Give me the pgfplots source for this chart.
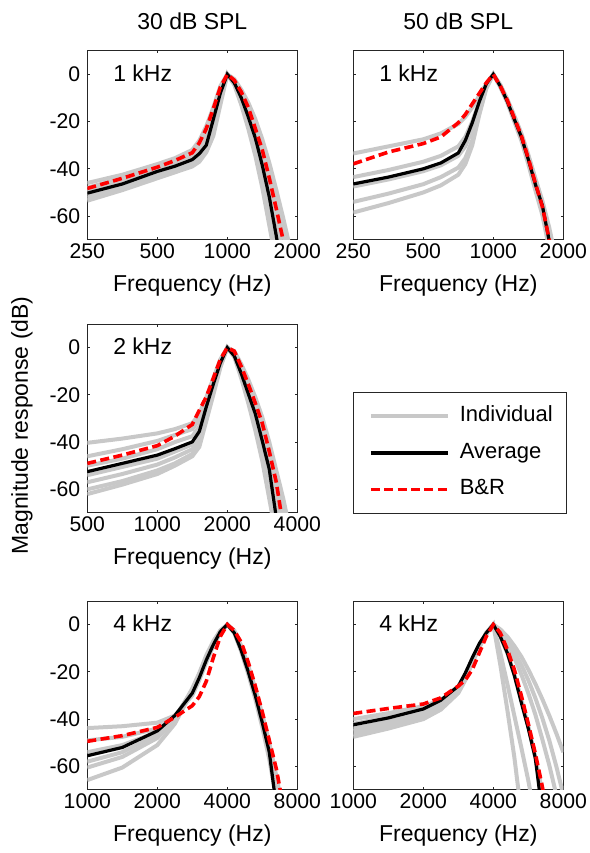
\documentclass[border=0pt]{standalone}
\usepackage{pgfplots}
\pgfplotsset{compat=1.18}
\usepackage{pgfplotstable}
\usepackage{fontspec}
\setmainfont{Liberation Sans}
\newcommand\labsize{\fontsize{11.5}{13.8}\selectfont}
\newcommand\ticksize{\fontsize{10.6}{12.7}\selectfont}
\newcommand\legsize{\fontsize{11}{13.2}\selectfont}
\definecolor{indivgray}{RGB}{200,200,200}

\pgfplotstableread{
f g1 g2 g3 g4 g5 g6 g7 avg br
250 -46 -48 -49.5 -51 -52.5 -53.5 -50 -50.3 -48.3
354 -42.5 -44 -45.5 -47 -48 -49 -46 -46.4 -44
500 -38 -39.5 -40.5 -42 -43 -44 -41 -41.1 -39.3
595 -35.5 -37 -38 -39.5 -40.5 -41.5 -38.5 -38.9 -36.5
707 -32 -34 -35.5 -37 -38 -39 -36 -36.1 -33.2
758 -28 -30.5 -32.5 -34.5 -36 -37 -33 -33.6 -29
812 -22 -25 -27.5 -30.5 -32 -33 -29 -30 -23
871 -14 -16 -18.5 -21 -24 -26 -20 -19 -14.5
933 -5 -6 -7.5 -9 -11 -13 -8.5 -8 -5.5
1000 0 0 0 0 0 0 0 0 0
1072 -2 -2.5 -3 -3.5 -4 -4.5 -3 -3.6 -2.5
1149 -6.5 -8 -9 -10.5 -12 -13 -9.5 -10 -7.5
1231 -12 -14.5 -16.5 -19 -21 -23 -17.5 -18 -14
1320 -19 -22.5 -25.5 -29 -32 -34.5 -27 -27 -23
1414 -27.5 -32 -35.5 -40 -44 -48 -38 -38.5 -32
1516 -37.5 -43 -48 -54 -59 -64 -51 -52 -44
1625 -49 -55 -62 -69 -75 -80 -66 -68.5 -57
1741 -61 -68 -76 -84 nan nan -81 -86 -70.5
1866 -74 -82 nan nan nan nan nan nan -85
2000 nan nan nan nan nan nan nan nan nan
}\tTL

\pgfplotstableread{
f g1 g2 g3 g4 g5 avg br
250 -33.5 -43.5 -47.5 -54 -58.5 -46.4 -37.9
354 -30.5 -40.5 -44.5 -50.5 -54.5 -43.5 -32.9
500 -27.5 -37 -41 -46.5 -50 -40 -29.3
595 -25 -34.5 -38.5 -43.5 -47 -37.5 -26.5
707 -21 -30.5 -34.5 -39.5 -42.5 -33.3 -20.5
758 -18 -26.5 -30.5 -35.5 -38 -28 -17
812 -14 -20 -23.5 -28 -30 -20.5 -12.5
871 -9 -11.5 -13 -16 -17 -11.5 -8
933 -4 -4 -4.5 -5.5 -6 -4 -3.6
1000 0 0 0 0 0 0 0
1072 -4.5 -5 -4.5 -5.5 -4.8 -5 -5
1149 -10.5 -11.5 -11 -12 -11 -11.5 -11
1231 -17.5 -19 -18 -20 -18.5 -19 -18.5
1320 -25 -27 -25.5 -28 -26.5 -26.5 -26
1414 -34 -36.5 -34.5 -38 -35.5 -36 -35.5
1516 -44 -47 -44.5 -49 -45.5 -46.5 -46
1625 -53.5 -57 -54 -59.5 -55 -55.5 -56
1741 -65 -71 -67 -74 -67.5 -70.7 -70
1866 -79 -86 -82 nan -82 -86 -85
2000 nan nan nan nan nan nan nan
}\tTR

\pgfplotstableread{
f g1 g2 g3 g4 g5 g6 g7 avg br
500 -40.3 -46 -50 -54 -57 -60 -62 -52.5 -49
707 -38.5 -43 -47 -50.5 -53.5 -56.5 -58 -49 -45.5
1000 -36.3 -39.5 -43 -47 -49.5 -52 -53.5 -45.5 -41.5
1189 -34.5 -37 -40 -44 -46.5 -49 -50 -42.8 -37.5
1414 -32 -34.5 -37.5 -41 -43 -45 -46 -39.9 -32.5
1516 -28 -30.5 -33.5 -37 -39 -40.5 -42 -35.5 -26.5
1625 -21 -22.5 -24 -27 -28.5 -30 -31 -25 -20.8
1741 -13 -14 -15 -17 -18 -19 -20 -15.5 -13
1866 -5 -5.5 -6 -7 -7.5 -8 -8.5 -6.5 -5
2000 0 0 0 0 0 0 0 0 0
2144 -1.5 -2 -2.5 -3.5 -4 -3 -2.5 -3.5 -1.5
2297 -7 -8 -9.5 -11.5 -13 -10.5 -9 -11 -8
2462 -13.5 -15 -17.5 -21 -23.5 -19.5 -16.5 -19.5 -15.5
2639 -21 -23 -26.5 -31 -35 -29 -25 -28 -23.5
2828 -29.5 -32 -36.5 -42 -48 -39.5 -34.5 -39.5 -32
3031 -40 -43 -48.5 -55 -64 -51.5 -46 -51.5 -44
3249 -52 -55.5 -62 -71 -80 -66 -59 -72 -57
3482 -64 -69 -77 nan nan -81 -73 nan -76
3732 -78 -84 nan nan nan nan nan nan nan
4000 nan nan nan nan nan nan nan nan nan
}\tML

\pgfplotstableread{
f g1 g2 g3 g4 g5 g6 avg br
1000 -43.8 -49 -58 -60.5 -65.8 -54 -55.5 -49.4
1414 -43 -47.5 -54 -56 -60.5 -51 -52 -47
2000 -41.5 -44 -46.5 -48 -51 -45.5 -45 -43.5
2378 -38.5 -39 -40 -40.5 -42 -39.5 -38.5 -39.2
2828 -30 -28.5 -27.5 -27 -28 -27.5 -29 -34.3
3031 -23.5 -22 -21 -20.5 -21.5 -21 -22.5 -30.5
3249 -16 -14.5 -13.5 -13 -14 -14 -15 -24
3482 -9 -8 -7.5 -7 -7.5 -7.5 -8.5 -14
3732 -3.5 -3 -2.5 -2.5 -2.8 -3 -3 -5
4000 0 0 0 0 0 0 0 0
4287 -3 -3.5 -3 -2.5 -3.5 -3 -3.5 -2.5
4595 -10 -11 -10 -9 -11.5 -10.5 -11 -7.5
4925 -18.5 -20 -19 -17.5 -21 -19.5 -20 -16
5278 -28 -30 -29 -27 -31.5 -29.5 -30 -26
5657 -39.5 -41.5 -40.5 -38 -43.5 -41 -41.5 -37
6063 -52 -54.5 -53 -50 -57 -53.5 -54 -49
6498 -66 -70 -68 -64 -74 -68 -77 -61
6964 -80 -85 -83 -79 nan -83 nan -77
7464 nan nan nan nan nan nan nan nan
8000 nan nan nan nan nan nan nan nan
}\tBL

\pgfplotstableread{
f g1 g2 g3 g4 g5 g6 avg br
1000 -40 -42 -44 -46.5 -47.5 -45 -42.4 -37.6
1414 -37.5 -39 -41 -43.5 -44 -42 -39.5 -35.5
2000 -34.5 -36 -37.5 -39.5 -40 -38.5 -35.7 -33.6
2378 -32 -33 -34 -35.5 -36 -35 -32 -31
2828 -27 -27.5 -28 -28.5 -29 -28 -26 -26
3031 -22 -22 -22.5 -23 -23.5 -22.5 -20.5 -23.5
3249 -16 -15 -15.5 -16 -16 -15.5 -14 -19
3482 -9.5 -9 -9 -9.5 -9.5 -9 -8 -12
3732 -4 -3.5 -3.5 -3.5 -4 -3.5 -3.5 -5
4000 0 0 0 0 0 0 0 0
4287 -2 -2.5 -3 -5 -17 -12 -5 -3.5
4595 -5 -6.5 -8 -12 -36 -25 -12 -10.5
4925 -9 -11.5 -14 -21 -56 -38.5 -21.5 -19
5278 -13.5 -17 -21 -31.5 -80 -52 -33 -30
5657 -19 -23.5 -29 -43 nan -66 -44 -42
6063 -25 -31 -38 -56 nan -82 -56.5 -54.5
6498 -31.5 -39.5 -48.5 -71 nan nan -80 -68.5
6964 -38.5 -49 -59.5 nan nan nan nan -85
7464 -46 -60 -72 nan nan nan nan nan
8000 -54 -72 nan nan nan nan nan nan
}\tBR

\pgfplotsset{
  indiv/.style={color=indivgray, line width=2pt, forget plot},
  avgline/.style={color=black, line width=1.6pt, forget plot},
  brline/.style={color=red, line width=1.8pt, dash pattern=on 4.5pt off 2.2pt, forget plot},
  legimg/.style={legend image code/.code={\draw[##1] (0pt,0pt) -- (38.5pt,0pt); \path[draw=none,fill=none] (0pt,-3.4pt) -- (0pt,0pt);}},
}
\pgfplotsset{
    scale only axis, width=105pt, height=94.5pt,
    ymin=-70, ymax=10,
    ytick={-60,-40,-20,0}, yticklabels={-60,-40,-20,0},
    tick align=inside, major tick length=1.3pt,
    xminorticks=false, yminorticks=false,
    axis line style={black!85, line width=0.5pt},
    tick style={black!85, line width=0.5pt},
    tick label style={font=\ticksize},
    xticklabel style={anchor=base, yshift=-9.5pt},
    xlabel={Frequency (Hz)}, label style={font=\labsize},
    xlabel style={at={(axis description cs:0.5,0)}, anchor=base, yshift=-26pt},
    title style={font=\labsize, at={(axis description cs:0.5,1)}, anchor=base, yshift=4.5pt},
}

\begin{document}
\begin{tikzpicture}
\useasboundingbox (0,0) rectangle (295pt,-426.5pt);

% Top left: 30 dB SPL, 1 kHz
\begin{axis}[xmode=log, log basis x=2, anchor=north west, at={(43.65pt,-25.35pt)}, title={30 dB SPL},
  xmin=250, xmax=2000, xtick={250,500,1000,2000}, xticklabels={250,500,1000,2000}]
\addplot[indiv] table[x=f,y=g1] {\tTL};
\addplot[indiv] table[x=f,y=g2] {\tTL};
\addplot[indiv] table[x=f,y=g3] {\tTL};
\addplot[indiv] table[x=f,y=g4] {\tTL};
\addplot[indiv] table[x=f,y=g5] {\tTL};
\addplot[indiv] table[x=f,y=g6] {\tTL};
\addplot[indiv] table[x=f,y=g7] {\tTL};
\addplot[avgline] table[x=f,y=avg] {\tTL};
\addplot[brline] table[x=f,y=br] {\tTL};
\node[anchor=base west, font=\labsize] at (rel axis cs:0.09,0.839) {1 kHz};
\end{axis}

% Top right: 50 dB SPL, 1 kHz
\begin{axis}[xmode=log, log basis x=2, anchor=north west, at={(176.65pt,-25.35pt)}, title={50 dB SPL}, yticklabels={},
  xmin=250, xmax=2000, xtick={250,500,1000,2000}, xticklabels={250,500,1000,2000}]
\addplot[indiv] table[x=f,y=g1] {\tTR};
\addplot[indiv] table[x=f,y=g2] {\tTR};
\addplot[indiv] table[x=f,y=g3] {\tTR};
\addplot[indiv] table[x=f,y=g4] {\tTR};
\addplot[indiv] table[x=f,y=g5] {\tTR};
\addplot[avgline] table[x=f,y=avg] {\tTR};
\addplot[brline] table[x=f,y=br] {\tTR};
\node[anchor=base west, font=\labsize] at (rel axis cs:0.09,0.839) {1 kHz};
\end{axis}

% Middle left: 30 dB SPL, 2 kHz (with legend)
\begin{axis}[xmode=log, log basis x=2, anchor=north west, at={(43.65pt,-162pt)},
  xmin=500, xmax=4000, xtick={500,1000,2000,4000}, xticklabels={500,1000,2000,4000},
  ylabel={Magnitude response (dB)},
  ylabel style={at={(axis description cs:-0.311,0.463)}, anchor=center},
  legend style={at={(axis description cs:1.2667,-0.005)}, anchor=south west,
    draw=black!85, line width=0.5pt, fill=white, font=\legsize,
    inner xsep=7.5pt, inner ysep=5.4pt, row sep=5.05pt, column sep=5pt,
    nodes={inner sep=0pt, text depth=}, cells={anchor=west}}]
\addplot[indiv] table[x=f,y=g1] {\tML};
\addplot[indiv] table[x=f,y=g2] {\tML};
\addplot[indiv] table[x=f,y=g3] {\tML};
\addplot[indiv] table[x=f,y=g4] {\tML};
\addplot[indiv] table[x=f,y=g5] {\tML};
\addplot[indiv] table[x=f,y=g6] {\tML};
\addplot[indiv] table[x=f,y=g7] {\tML};
\addplot[avgline] table[x=f,y=avg] {\tML};
\addplot[brline] table[x=f,y=br] {\tML};
\node[anchor=base west, font=\labsize] at (rel axis cs:0.09,0.839) {2 kHz};
\addlegendimage{indivgray, line width=2pt, legimg}
\addlegendentry{\makebox[46pt][l]{\strut Individual}}
\addlegendimage{black, line width=1.6pt, legimg}
\addlegendentry{\makebox[46pt][l]{\strut Average}}
\addlegendimage{red, line width=1.8pt, dash pattern=on 4.5pt off 2.2pt, legimg}
\addlegendentry{\makebox[46pt][l]{\strut B\&R}}
\end{axis}

% Bottom left: 30 dB SPL, 4 kHz
\begin{axis}[xmode=log, log basis x=2, anchor=north west, at={(43.65pt,-300.5pt)},
  xmin=1000, xmax=8000, xtick={1000,2000,4000,8000}, xticklabels={1000,2000,4000,8000}]
\addplot[indiv] table[x=f,y=g1] {\tBL};
\addplot[indiv] table[x=f,y=g2] {\tBL};
\addplot[indiv] table[x=f,y=g3] {\tBL};
\addplot[indiv] table[x=f,y=g4] {\tBL};
\addplot[indiv] table[x=f,y=g5] {\tBL};
\addplot[indiv] table[x=f,y=g6] {\tBL};
\addplot[avgline] table[x=f,y=avg] {\tBL};
\addplot[brline] table[x=f,y=br] {\tBL};
\node[anchor=base west, font=\labsize] at (rel axis cs:0.09,0.839) {4 kHz};
\end{axis}

% Bottom right: 50 dB SPL, 4 kHz
\begin{axis}[xmode=log, log basis x=2, anchor=north west, at={(176.65pt,-300.5pt)}, yticklabels={},
  xmin=1000, xmax=8000, xtick={1000,2000,4000,8000}, xticklabels={1000,2000,4000,8000}]
\addplot[indiv] table[x=f,y=g1] {\tBR};
\addplot[indiv] table[x=f,y=g2] {\tBR};
\addplot[indiv] table[x=f,y=g3] {\tBR};
\addplot[indiv] table[x=f,y=g4] {\tBR};
\addplot[indiv] table[x=f,y=g5] {\tBR};
\addplot[indiv] table[x=f,y=g6] {\tBR};
\addplot[avgline] table[x=f,y=avg] {\tBR};
\addplot[brline] table[x=f,y=br] {\tBR};
\node[anchor=base west, font=\labsize] at (rel axis cs:0.09,0.839) {4 kHz};
\end{axis}
\end{tikzpicture}
\end{document}
